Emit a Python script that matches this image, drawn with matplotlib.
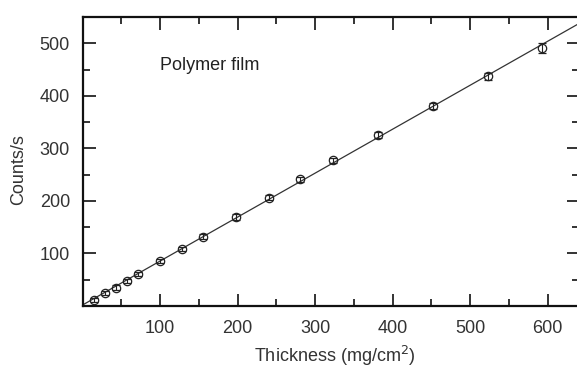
import numpy as np
import matplotlib
matplotlib.use("Agg")
import matplotlib.pyplot as plt
from matplotlib.ticker import MultipleLocator

plt.rcParams['font.family'] = ['Liberation Sans', 'DejaVu Sans']

thickness = [15, 29, 43, 57, 71, 100, 128, 155, 198, 240, 281, 323, 381, 452, 523, 593]
counts = [11, 25, 35, 48, 60, 85, 108, 132, 169, 206, 241, 277, 325, 380, 437, 491]
errors = [4, 4, 4, 4, 4, 4, 4, 5, 5, 5, 5, 5, 6, 6, 7, 9]

fig = plt.figure(figsize=(5.77, 3.69), dpi=100)
ax = fig.add_axes([0.143, 0.171, 0.860, 0.783])

coef = np.polyfit(thickness, counts, 1)
xl = np.array([0, 650])
ax.plot(xl, np.polyval(coef, xl), color='#333333', lw=0.9, zorder=2)

ax.errorbar(thickness, counts, yerr=errors, fmt='o', ms=6, mfc='none',
            mec='#222222', mew=0.9, ecolor='#222222', elinewidth=0.8,
            capsize=3, capthick=0.8, zorder=3)

ax.set_xlim(0, 640)
ax.set_ylim(0, 550)
ax.xaxis.set_minor_locator(MultipleLocator(50))
ax.yaxis.set_minor_locator(MultipleLocator(50))
ax.set_xticks([100, 200, 300, 400, 500, 600])
ax.set_yticks([100, 200, 300, 400, 500])

ax.tick_params(which='both', direction='in', top=True, right=True,
               colors='#111111', labelcolor='#333333', labelsize=13, width=1.2)
ax.tick_params(axis='x', which='major', length=9, pad=10)
ax.tick_params(axis='y', which='major', length=9, pad=9)
ax.tick_params(which='minor', length=5)
for s in ax.spines.values():
    s.set_linewidth(1.6)
    s.set_color('#111111')

fig.text(335 / 577, 1 - 356 / 369, 'Thickness (mg/cm$^2$)', fontsize=13,
         color='#333333', ha='center', va='center')
fig.text(19 / 577, 1 - 170 / 369, 'Counts/s', fontsize=13, color='#333333',
         ha='center', va='center', rotation=90)

ax.text(100, 457, 'Polymer film', fontsize=13, color='#222222', va='center')

fig.savefig('out.png', dpi=100)
